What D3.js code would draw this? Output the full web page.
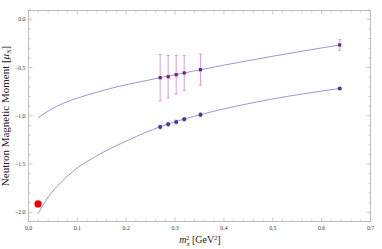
<!DOCTYPE html>
<html>
<head>
<meta charset="utf-8">
<script src="https://cdn.jsdelivr.net/npm/d3@7"></script>
<style>
  body { margin: 0; background: #fff; }
  text { font-family: "Liberation Serif", "DejaVu Serif", serif; }
</style>
</head>
<body>
<div id="chart"></div>
<script>
// lattice points (m_pi^2, moment, error)
const lattice_x = [0.2695, 0.2859, 0.3023, 0.3187, 0.352, 0.637];
const upper_y = [-0.605, -0.595, -0.574, -0.556, -0.522, -0.266];
const upper_err = [0.24, 0.22, 0.2, 0.18, 0.16, 0.055];
const lower_y = [-1.116, -1.088, -1.064, -1.036, -0.988, -0.717];
const lower_err = [0.02, 0.02, 0.02, 0.02, 0.02, 0.01];

// fit curves
const upper_curve_x = [0.0194, 0.044, 0.0712, 0.1054, 0.1396, 0.1736, 0.2077, 0.2695, 0.352, 0.495, 0.637];
const upper_curve_y = [-1.02, -0.94, -0.87, -0.808, -0.756, -0.709, -0.67, -0.605, -0.522, -0.387, -0.266];
const lower_curve_x = [0.0194, 0.041, 0.068, 0.102, 0.1365, 0.2047, 0.2695, 0.352, 0.495, 0.637];
const lower_curve_y = [-2.015, -1.838, -1.683, -1.534, -1.424, -1.251, -1.113, -0.988, -0.83, -0.717];

// physical point
const phys = [{ x: 0.0195, y: -1.913 }];

const x_ticks = [0, 0.1, 0.2, 0.3, 0.4, 0.5, 0.6, 0.7];
const y_ticks = [0, -0.5, -1.0, -1.5, -2.0];

const width = 382, height = 249;
const svg = d3.select("#chart").append("svg")
    .attr("width", width)
    .attr("height", height);

const x = d3.scaleLinear().domain([0, 0.7]).range([28.5, 370.5]);
const y = d3.scaleLinear().domain([0, -2.0]).range([19.3, 212.3]);
const frame_left = 28.5, frame_right = 370.5, frame_top = 10.5, frame_bottom = 221.5;

// frame
const frame_color = "#b0b0b0";
svg.append("rect")
    .attr("x", frame_left).attr("y", frame_top)
    .attr("width", frame_right - frame_left).attr("height", frame_bottom - frame_top)
    .attr("fill", "none").attr("stroke", frame_color).attr("stroke-width", 0.8);

// ticks on all four sides
const x_minor = d3.range(0, 0.7001, 0.02);
const y_minor = d3.range(-2.1, 0.1001, 0.1);
x_minor.forEach(v => {
    const major = x_ticks.some(t => Math.abs(t - v) < 1e-6);
    const len = major ? 4 : 2;
    svg.append("line").attr("x1", x(v)).attr("x2", x(v)).attr("y1", frame_bottom).attr("y2", frame_bottom - len)
        .attr("stroke", frame_color).attr("stroke-width", 0.7);
    svg.append("line").attr("x1", x(v)).attr("x2", x(v)).attr("y1", frame_top).attr("y2", frame_top + len)
        .attr("stroke", frame_color).attr("stroke-width", 0.7);
});
y_minor.forEach(v => {
    const major = y_ticks.some(t => Math.abs(t - v) < 1e-6);
    const len = major ? 4 : 2;
    svg.append("line").attr("y1", y(v)).attr("y2", y(v)).attr("x1", frame_left).attr("x2", frame_left + len)
        .attr("stroke", frame_color).attr("stroke-width", 0.7);
    svg.append("line").attr("y1", y(v)).attr("y2", y(v)).attr("x1", frame_right).attr("x2", frame_right - len)
        .attr("stroke", frame_color).attr("stroke-width", 0.7);
});

// tick labels
svg.selectAll(".xlab").data(x_ticks).join("text")
    .attr("class", "xlab")
    .attr("x", d => x(d)).attr("y", frame_bottom + 8.5)
    .attr("text-anchor", "middle").attr("font-size", 5.8).attr("fill", "#333")
    .text(d => d3.format(".1f")(d));
svg.selectAll(".ylab").data(y_ticks).join("text")
    .attr("class", "ylab")
    .attr("x", frame_left - 3).attr("y", d => y(d) + 2)
    .attr("text-anchor", "end").attr("font-size", 5.8).attr("fill", "#333")
    .text(d => d3.format(".1f")(d).replace("-", "\u2212"));

// axis titles
const xt = svg.append("text")
    .attr("x", 200).attr("y", 243)
    .attr("text-anchor", "middle").attr("font-size", 10).attr("fill", "#222");
xt.append("tspan").attr("font-style", "italic").text("m");
xt.append("tspan").attr("font-style", "italic").attr("font-size", 6.3).attr("dy", 2.5).text("\u03c0");
xt.append("tspan").attr("font-size", 6.3).attr("dy", -6).attr("dx", -3.5).text("2");
xt.append("tspan").attr("dy", 3.5).text(" [GeV");
xt.append("tspan").attr("font-size", 6.3).attr("dy", -3.5).text("2");
xt.append("tspan").attr("dy", 3.5).text("]");

const yt = svg.append("text")
    .attr("transform", "translate(8.5,116) rotate(-90)")
    .attr("text-anchor", "middle").attr("font-size", 11).attr("fill", "#222");
yt.append("tspan").text("Neutron Magnetic Moment [");
yt.append("tspan").attr("font-style", "italic").text("\u03bc");
yt.append("tspan").attr("font-style", "italic").attr("font-size", 6.5).attr("dy", 2).text("N");
yt.append("tspan").attr("dy", -2).text("]");

// fit curves
const line = d3.line().x(d => x(d[0])).y(d => y(d[1])).curve(d3.curveMonotoneX);
[[upper_curve_x, upper_curve_y], [lower_curve_x, lower_curve_y]].forEach(([cx, cy]) => {
    svg.append("path")
        .attr("d", line(cx.map((v, i) => [v, cy[i]])))
        .attr("fill", "none").attr("stroke", "#8c8cd0").attr("stroke-width", 0.9);
});

// error bars
function errorbars(ys, errs, color, opacity) {
    ys.forEach((v, i) => {
        const cx = x(lattice_x[i]);
        const g = svg.append("g").attr("stroke", color).attr("stroke-opacity", opacity).attr("stroke-width", 0.8);
        g.append("line").attr("x1", cx).attr("x2", cx).attr("y1", y(v + errs[i])).attr("y2", y(v - errs[i]));
        g.append("line").attr("x1", cx - 1.5).attr("x2", cx + 1.5).attr("y1", y(v + errs[i])).attr("y2", y(v + errs[i]));
        g.append("line").attr("x1", cx - 1.5).attr("x2", cx + 1.5).attr("y1", y(v - errs[i])).attr("y2", y(v - errs[i]));
    });
}
errorbars(upper_y, upper_err, "#c060c8", 0.75);
errorbars(lower_y, lower_err, "#8080d0", 0.7);

// upper squares
svg.selectAll(".sq").data(lattice_x).join("rect")
    .attr("class", "sq")
    .attr("x", d => x(d) - 1.6).attr("y", (d, i) => y(upper_y[i]) - 1.6)
    .attr("width", 3.2).attr("height", 3.2)
    .attr("fill", "#7a1a8a");

// lower circles
svg.selectAll(".dot").data(lattice_x).join("circle")
    .attr("class", "dot")
    .attr("cx", d => x(d)).attr("cy", (d, i) => y(lower_y[i]))
    .attr("r", 2)
    .attr("fill", "#3a3aa0");

// physical value
svg.selectAll(".phys").data(phys).join("circle")
    .attr("class", "phys")
    .attr("cx", d => x(d.x)).attr("cy", d => y(d.y))
    .attr("r", 3.6)
    .attr("fill", "#ee0000");
</script>
</body>
</html>
